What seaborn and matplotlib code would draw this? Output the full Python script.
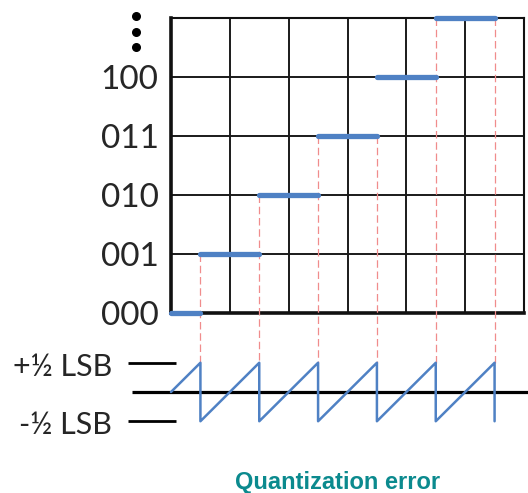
import matplotlib
matplotlib.use("Agg")
import matplotlib.pyplot as plt
import seaborn as sns

# ADC transfer staircase
CODES = ["000", "001", "010", "011", "100"]
STEP_LEVEL = [0, 1, 2, 3, 4, 5]
STEP_START = [0.0, 0.5, 1.5, 2.5, 3.5, 4.5]
STEP_END = [0.5, 1.5, 2.5, 3.5, 4.5, 5.5]

# red guides: transition position and the level they hang from
GUIDE_X = [0.5, 1.5, 2.5, 3.5, 4.5, 5.5]
GUIDE_TOP = [1, 2, 3, 3, 5, 5]

# quantization error (in LSB)
SAW_X = [0.0, 0.5, 0.5, 1.5, 1.5, 2.5, 2.5, 3.5, 3.5, 4.5, 4.5, 5.5, 5.5]
SAW_Y = [0.0, 0.5, -0.5, 0.5, -0.5, 0.5, -0.5, 0.5, -0.5, 0.5, -0.5, 0.5, -0.5]
ERR_LABELS = ["+½ LSB", "-½ LSB"]
ERR_LEVELS = [0.5, -0.5]

BLUE = "#4f81c4"
RED = "#f08c8c"
TEAL = "#0b8a8e"

sns.set_style("white")
plt.rcParams["font.family"] = ["Lato", "DejaVu Sans"]

W, H = 528, 493
fig = plt.figure(figsize=(W / 100, H / 100), dpi=100)

# staircase panel
ax = fig.add_axes([171 / W, (H - 313) / H, 353 / W, 295 / H])
ax.set_xlim(0, 6)
ax.set_ylim(0, 5)
ax.set_xticks(range(7))
ax.set_yticks(range(6), labels=CODES + [""])
ax.tick_params(axis="x", length=0, labelbottom=False)
ax.tick_params(axis="y", length=0, pad=9, labelsize=24)
ax.grid(True, color="#1a1a1a", lw=1.4)
for side, lw in [("left", 2.6), ("bottom", 2.6), ("top", 1.5), ("right", 1.5)]:
    ax.spines[side].set_visible(True)
    ax.spines[side].set_color("#111111")
    ax.spines[side].set_linewidth(lw)
ax.set_axisbelow(True)

# error panel (full width, same horizontal scale)
unit = 353 / 6
ax2 = fig.add_axes([0, (H - 440) / H, 1, 100 / H])
ax2.set_xlim(-171 / unit, (W - 171) / unit)
ax2.set_ylim(-(440 - 392) / 58.5, (392 - 340) / 58.5)
ax2.axis("off")

ax2.plot([-0.663, (W - 171) / unit], [0, 0], color="black", lw=2.3,
         solid_capstyle="butt")
for lab, lev in zip(ERR_LABELS, ERR_LEVELS):
    ax2.plot([-0.73, 0.085], [lev, lev], color="black", lw=2.0, solid_capstyle="butt")
    ax2.text(-1.0, lev - 0.07, lab, ha="right", va="center", fontsize=22)

sns.lineplot(x=SAW_X, y=SAW_Y, sort=False, estimator=None, color=BLUE,
             lw=1.8, ax=ax2)

# red dashed guides from the staircase down to the error peaks
inv = ax.transData.inverted()
for gx, top in zip(GUIDE_X, GUIDE_TOP):
    y_bot = inv.transform(ax2.transData.transform((gx, 0.5)))[1]
    ax.plot([gx, gx], [top, y_bot], color=RED, lw=0.9, ls=(0, (6, 3)),
            clip_on=False, zorder=3)

ax.hlines(STEP_LEVEL, STEP_START, STEP_END, color=BLUE, lw=3.8,
          capstyle="round", clip_on=False, zorder=4)

# vertical ellipsis above the code labels
ax.scatter([-0.595] * 3, [5.03, 4.765, 4.5], s=30, color="black",
           clip_on=False, zorder=5)

fig.text(338 / W, 1 - 483 / H, "Quantization error", ha="center", va="center",
         color=TEAL, fontsize=17, fontweight="bold", family="Liberation Sans")

fig.savefig("out.png", dpi=100)
